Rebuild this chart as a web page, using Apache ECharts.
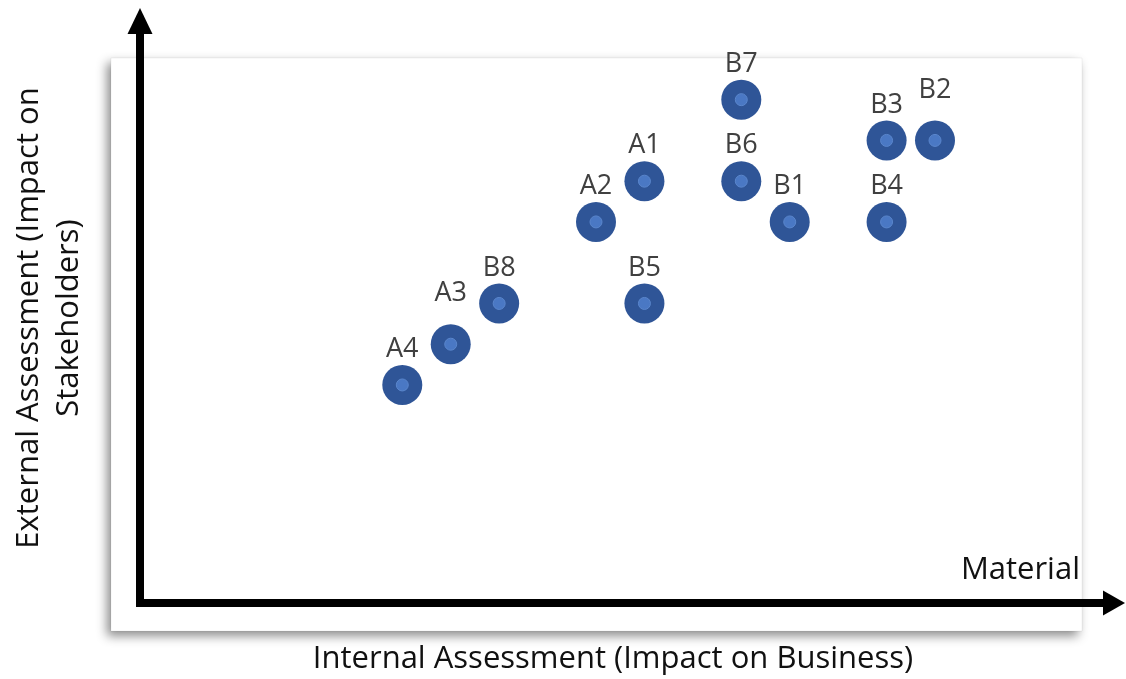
<!DOCTYPE html>
<html><head><meta charset="utf-8">
<script src="https://cdn.jsdelivr.net/npm/echarts@6/dist/echarts.min.js"></script>
<style>html,body{margin:0;padding:0;background:#fff}#c{width:1126px;height:679px}</style>
</head><body><div id="c"></div>
<script>
// Data (arbitrary units, one grid step between neighbouring points)
const names   = ['A1','A2','A3','A4','B1','B2','B3','B4','B5','B6','B7','B8'];
const xValues = [6, 5, 2, 1, 9, 12, 11, 11, 6, 8, 8, 3];
const yValues = [6, 5, 2, 1, 5, 7, 7, 5, 3, 6, 8, 3];
const xTitle = 'Internal Assessment (Impact on Business)';
const yTitleLines = ['External Assessment (Impact on', 'Stakeholders)'];
const cornerLabel = 'Material';

// styling: labels that sit a little higher in the original
const raisedLabels = ['A3', 'B2'];

const FONT = '"Open Sans", "Noto Sans", sans-serif';
const points = names.map((n, i) => {
  const p = { name: n, value: [xValues[i], yValues[i]] };
  if (raisedLabels.includes(n)) p.label = { distance: 17 };
  return p;
});

const chart = echarts.init(document.getElementById('c'), null, { renderer: 'canvas' });
chart.setOption({
  backgroundColor: '#ffffff',
  animation: false,
  grid: { left: 140, right: 12, top: 21, bottom: 76 },
  xAxis: {
    type: 'value', min: -4.416, max: 15.696,
    axisLine: { show: true, onZero: false, symbol: ['none', 'triangle'], symbolSize: [25, 22],
      lineStyle: { color: '#000', width: 8, cap: 'square' } },
    axisTick: { show: false }, axisLabel: { show: false }, splitLine: { show: false }
  },
  yAxis: {
    type: 'value', min: -4.35, max: 9.93,
    axisLine: { show: true, onZero: false, symbol: ['none', 'triangle'], symbolSize: [25, 26],
      lineStyle: { color: '#000', width: 8, cap: 'square' } },
    axisTick: { show: false }, axisLabel: { show: false }, splitLine: { show: false }
  },
  graphic: [
    { type: 'rect', z: -10, shape: { x: 111, y: 58, width: 971, height: 573 },
      style: { fill: '#fff', stroke: 'rgba(0,0,0,0.05)', lineWidth: 1,
        shadowBlur: 10, shadowOffsetX: -4, shadowOffsetY: 5, shadowColor: 'rgba(0,0,0,0.45)' } },
    { type: 'text', x: 613, y: 659, style: { text: xTitle, font: '31px ' + FONT, fill: '#111',
        align: 'center', verticalAlign: 'middle' } },
    { type: 'text', x: 1080, y: 570, style: { text: cornerLabel, font: '31px ' + FONT, fill: '#111',
        align: 'right', verticalAlign: 'middle' } },
    { type: 'text', x: 29, y: 318, rotation: Math.PI / 2, style: { text: yTitleLines[0], font: '31px ' + FONT,
        fill: '#111', align: 'center', verticalAlign: 'middle' } },
    { type: 'text', x: 69, y: 318, rotation: Math.PI / 2, style: { text: yTitleLines[1], font: '31px ' + FONT,
        fill: '#111', align: 'center', verticalAlign: 'middle' } }
  ],
  series: [
    {
      type: 'scatter', data: points, symbol: 'circle', symbolSize: 40, z: 3,
      itemStyle: { color: '#2F5597', opacity: 1 },
      label: { show: true, position: 'top', distance: 2, formatter: '{b}',
        fontFamily: FONT, fontSize: 27, color: '#404040' },
      emphasis: { disabled: true }
    },
    {
      type: 'scatter', data: names.map((n, i) => [xValues[i], yValues[i]]),
      symbol: 'circle', symbolSize: 12, z: 4, silent: true,
      itemStyle: { color: '#4A78C4', borderColor: '#5A86CC', borderWidth: 1, opacity: 1 },
      label: { show: false }, emphasis: { disabled: true }
    }
  ]
});
</script></body></html>
